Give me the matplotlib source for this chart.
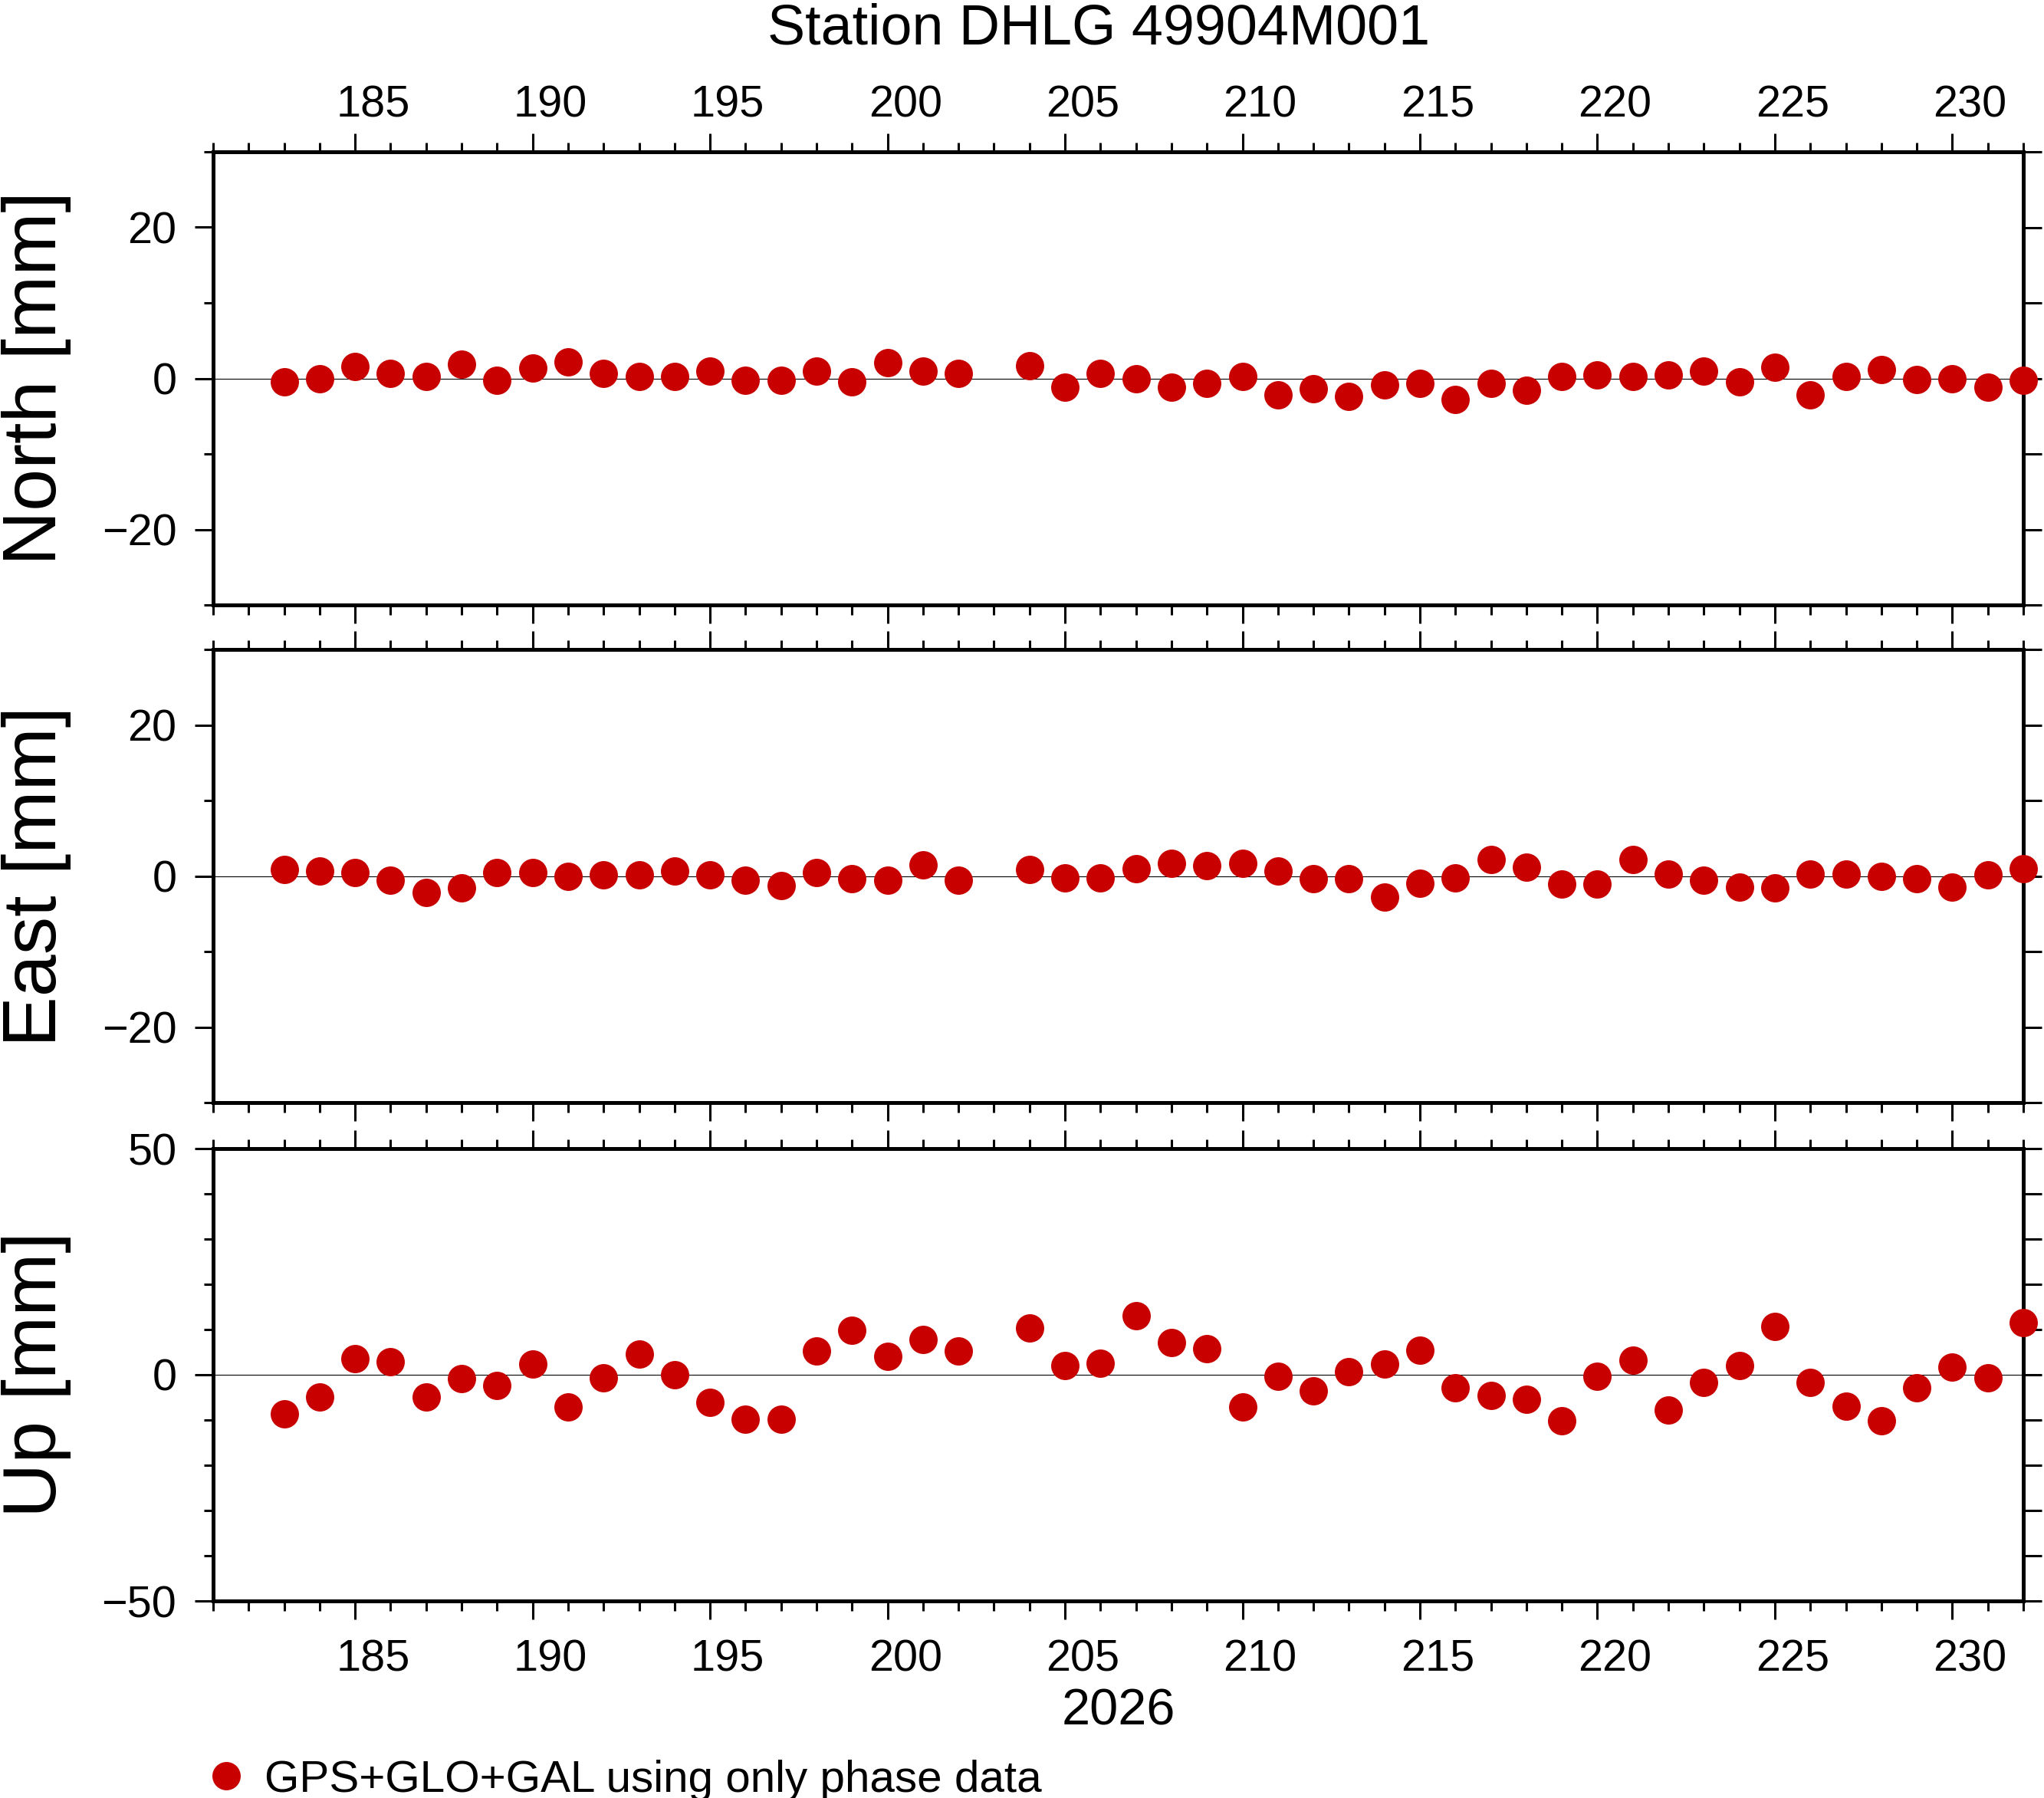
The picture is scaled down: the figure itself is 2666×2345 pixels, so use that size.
import numpy as np
import matplotlib
matplotlib.use('Agg')
import matplotlib.pyplot as plt
from matplotlib.ticker import MultipleLocator, FixedLocator, NullLocator
from matplotlib.transforms import ScaledTranslation
from matplotlib import font_manager

# ---------------- data ----------------
days = [183, 184, 185, 186, 187, 188, 189, 190, 191, 192, 193, 194, 195, 196, 197,
        198, 199, 200, 201, 202, 204, 205, 206, 207, 208, 209, 210, 211, 212, 213,
        214, 215, 216, 217, 218, 219, 220, 221, 222, 223, 224, 225, 226, 227, 228,
        229, 230, 231, 232]

north = [-0.5, 0.0, 1.6, 0.7, 0.3, 1.9, -0.3, 1.4, 2.2, 0.7, 0.3, 0.3, 1.0, -0.3, -0.3,
         1.0, -0.5, 2.1, 1.0, 0.7, 1.7, -1.2, 0.7, 0.0, -1.2, -0.7, 0.3, -2.2, -1.4, -2.4,
         -0.9, -0.7, -2.8, -0.7, -1.6, 0.3, 0.5, 0.3, 0.5, 1.0, -0.5, 1.5, -2.2, 0.3, 1.2,
         -0.2, 0.0, -1.2, -0.3]

east = [0.9, 0.7, 0.5, -0.5, -2.2, -1.6, 0.5, 0.5, 0.0, 0.2, 0.2, 0.7, 0.2, -0.5, -1.2,
        0.5, -0.3, -0.5, 1.5, -0.5, 0.9, -0.2, -0.2, 1.0, 1.7, 1.4, 1.7, 0.7, -0.3, -0.3,
        -2.8, -0.9, -0.2, 2.2, 1.2, -1.0, -1.0, 2.2, 0.3, -0.5, -1.4, -1.6, 0.3, 0.3, 0.0,
        -0.3, -1.4, 0.2, 1.0]

up = [-8.6, -4.9, 3.5, 2.9, -4.9, -0.9, -2.3, 2.3, -7.2, -0.6, 4.6, 0.0, -6.1, -9.8, -9.8,
      5.2, 9.8, 4.0, 7.8, 5.2, 10.4, 2.0, 2.6, 13.0, 7.2, 5.8, -7.2, -0.3, -3.5, 0.6,
      2.3, 5.5, -2.9, -4.6, -5.5, -10.1, -0.3, 3.2, -7.8, -1.7, 2.0, 10.7, -1.7, -6.9, -10.1,
      -2.9, 1.7, -0.6, 11.5]

panel_labels = ["North [mm]", "East [mm]", "Up [mm]"]
panel_limits = [30, 30, 50]
panel_major = [[-20, 0, 20], [-20, 0, 20], [-50, 0, 50]]
title = "Station DHLG 49904M001"
year_label = "2026"
legend_label = "GPS+GLO+GAL using only phase data"
xlim = (181, 232)

# ---------------- style ----------------
W, H = 2666, 2345
DPI = 100
plt.rcParams['font.family'] = ['Liberation Sans', 'DejaVu Sans']
names = {f.name for f in font_manager.fontManager.ttflist}
if 'Liberation Sans Narrow' in names:
    legend_font = dict(family=['Liberation Sans Narrow', 'Liberation Sans'], size=50)
else:
    legend_font = dict(family=['Liberation Sans', 'DejaVu Sans'], size=42)

red = '#c80000'
spine_lw = 3.6
tick_w = 2.2
major_len = 17.3
minor_len = 9.0
tick_fs = 41.5
ms = 26.6

fig = plt.figure(figsize=(W / DPI, H / DPI), dpi=DPI)

left_px, right_px = 278, 2639
panels_px = [(198, 789), (847.5, 1438), (1498, 2088)]
day_px = (right_px - left_px) / (xlim[1] - xlim[0])
label_shift = ScaledTranslation(0.5 * day_px / DPI, 0, fig.dpi_scale_trans)

def rect(top, bot):
    return [left_px / W, 1 - bot / H, (right_px - left_px) / W, (bot - top) / H]

series = [north, east, up]
axes = []
for i, ((top, bot), vals) in enumerate(zip(panels_px, series)):
    ax = fig.add_axes(rect(top, bot))
    axes.append(ax)
    lim = panel_limits[i]
    ax.set_xlim(*xlim)
    ax.set_ylim(-lim, lim)
    ax.axhline(0, color='black', lw=0.8, zorder=1)
    line, = ax.plot(days, vals, 'o', ms=ms, color=red, mec='none',
                    clip_on=False, zorder=5, label=legend_label)
    if i == 0:
        handle = line
    for s in ax.spines.values():
        s.set_linewidth(spine_lw)
    # x ticks
    ax.xaxis.set_major_locator(MultipleLocator(5))
    ax.xaxis.set_minor_locator(MultipleLocator(1))
    ax.tick_params(axis='x', which='both', direction='out', top=True, bottom=True,
                   width=tick_w, labelsize=tick_fs, labeltop=(i == 0),
                   labelbottom=(i == 2))
    ax.tick_params(axis='x', which='major', length=major_len,
                   pad=(7 if i == 0 else 18))
    ax.tick_params(axis='x', which='minor', length=minor_len)
    # annotations centred in the day interval (GMT style)
    for tk in ax.xaxis.get_major_ticks():
        tk.label1.set_transform(tk.label1.get_transform() + label_shift)
        tk.label2.set_transform(tk.label2.get_transform() + label_shift)
    # y ticks (left)
    ax.yaxis.set_major_locator(FixedLocator(panel_major[i]))
    ax.yaxis.set_minor_locator(MultipleLocator(10))
    ax.tick_params(axis='y', which='both', direction='out', left=True, right=False,
                   width=tick_w, labelsize=tick_fs)
    ax.tick_params(axis='y', which='major', length=major_len, pad=17)
    ax.tick_params(axis='y', which='minor', length=minor_len)
    # right ticks every 10, uniform length
    sec = ax.secondary_yaxis('right')
    sec.set_ticks(list(range(-lim, lim + 1, 10)))
    sec.yaxis.set_minor_locator(NullLocator())
    sec.tick_params(axis='y', direction='out', length=major_len, width=tick_w,
                    labelright=False)
    sec.spines['right'].set_linewidth(spine_lw)
    # y label
    cy = (top + bot) / 2
    fig.text(73 / W, 1 - cy / H, panel_labels[i], rotation=90, rotation_mode='anchor',
             ha='center', va='baseline', fontsize=71)

fig.text(1433 / W, 1 - 57 / H, title, ha='center', va='baseline', fontsize=53)
fig.text(1459 / W, 1 - 2250 / H, year_label, ha='center', va='baseline', fontsize=48)

leg = axes[2].legend(handles=[handle], labels=[legend_label], loc='center left',
                     bbox_to_anchor=(276.5 / W, 1 - 2321.6 / H),
                     bbox_transform=fig.transFigure, frameon=False,
                     handlelength=37 / (legend_font['size'] * 1.389),
                     handletextpad=0.54, borderpad=0, borderaxespad=0,
                     numpoints=1, prop=legend_font)

fig.savefig('out.png', dpi=DPI)
